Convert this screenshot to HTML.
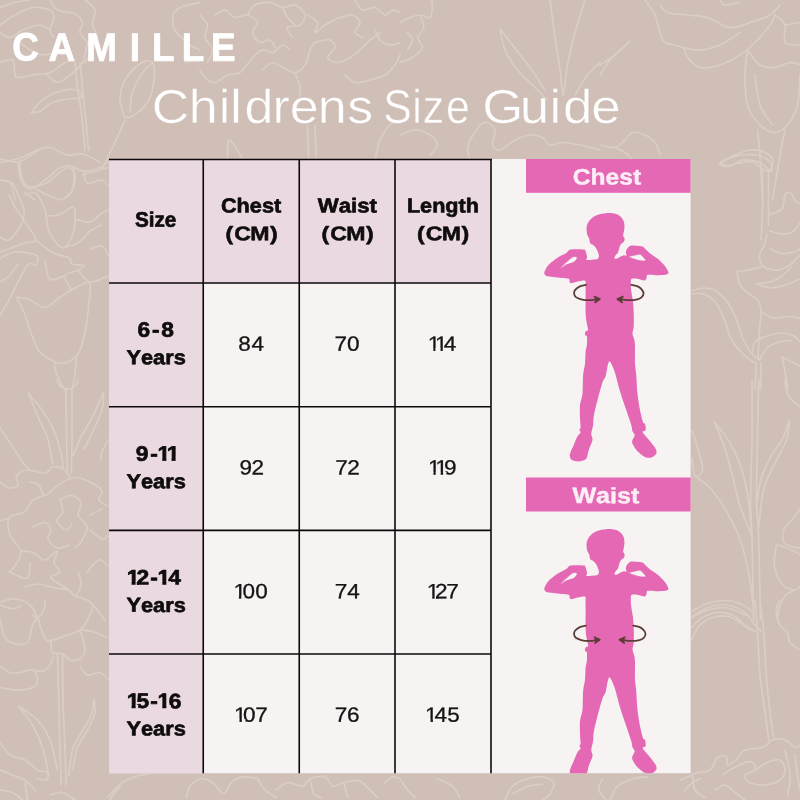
<!DOCTYPE html>
<html lang="en">
<head>
<meta charset="utf-8">
<title>Camille – Childrens Size Guide</title>
<style>
html,body{margin:0;padding:0;}
body{width:800px;height:800px;overflow:hidden;background:#cfbfb7;position:relative;font-family:"Liberation Sans",sans-serif;}
#bg,#shapes,#txt{position:absolute;left:0;top:0;width:800px;height:800px;display:block;}
#txt{font-family:"Liberation Sans",sans-serif;text-rendering:geometricPrecision;}
#txt text{white-space:pre;}
</style>
</head>
<body>
<svg id="bg" viewBox="0 0 800 800" width="800" height="800">
<rect width="800" height="800" fill="#cfbfb7"/>
<path d="M0.00 25.00C2.50 23.33 9.58 17.92 15.00 15.00C20.42 12.08 26.67 8.33 32.50 7.50C38.33 6.67 46.46 8.33 50.00 10.00C53.54 11.67 53.75 14.17 53.75 17.50C53.75 20.83 50.00 26.67 50.00 30.00C50.00 33.33 53.12 36.25 53.75 37.50 M50.00 0.00C51.25 1.67 53.33 7.71 57.50 10.00C61.67 12.29 70.83 11.67 75.00 13.75C79.17 15.83 81.67 19.38 82.50 22.50C83.33 25.62 79.17 29.17 80.00 32.50C80.83 35.83 86.25 40.83 87.50 42.50 M0.00 62.50C2.08 62.08 10.00 57.92 12.50 60.00C15.00 62.08 13.96 72.08 15.00 75.00C16.04 77.92 15.83 77.50 18.75 77.50C21.67 77.50 27.29 75.83 32.50 75.00C37.71 74.17 44.58 74.58 50.00 72.50C55.42 70.42 60.83 64.58 65.00 62.50C69.17 60.42 73.33 60.42 75.00 60.00 M47.50 75.00C49.17 76.25 53.75 82.50 57.50 82.50C61.25 82.50 65.83 78.33 70.00 75.00C74.17 71.67 79.58 67.92 82.50 62.50C85.42 57.08 86.67 45.83 87.50 42.50 M0.00 32.50C1.67 33.33 6.25 37.92 10.00 37.50C13.75 37.08 17.50 32.08 22.50 30.00C27.50 27.92 35.42 25.00 40.00 25.00C44.58 25.00 48.33 29.17 50.00 30.00 M85.00 0.00C86.67 1.67 93.75 5.83 95.00 10.00C96.25 14.17 92.08 20.42 92.50 25.00C92.92 29.58 97.50 33.33 97.50 37.50C97.50 41.67 94.58 45.83 92.50 50.00C90.42 54.17 86.25 60.42 85.00 62.50 M75.00 62.50C75.42 66.67 76.46 79.17 77.50 87.50C78.54 95.83 80.00 102.08 81.25 112.50C82.50 122.92 84.38 143.75 85.00 150.00 M80.00 62.50C80.62 68.75 82.29 85.42 83.75 100.00C85.21 114.58 87.92 141.67 88.75 150.00 M31.25 112.50C33.12 110.42 37.71 103.54 42.50 100.00C47.29 96.46 54.17 92.92 60.00 91.25C65.83 89.58 73.96 88.96 77.50 90.00C81.04 91.04 82.50 96.04 81.25 97.50C80.00 98.96 74.79 97.92 70.00 98.75C65.21 99.58 57.50 100.42 52.50 102.50C47.50 104.58 43.54 109.58 40.00 111.25C36.46 112.92 32.71 112.29 31.25 112.50 M125.00 117.50C124.17 114.58 120.00 106.25 120.00 100.00C120.00 93.75 121.67 86.04 125.00 80.00C128.33 73.96 135.42 66.67 140.00 63.75C144.58 60.83 150.21 59.38 152.50 62.50C154.79 65.62 154.58 75.83 153.75 82.50C152.92 89.17 151.04 96.88 147.50 102.50C143.96 108.12 136.25 113.75 132.50 116.25C128.75 118.75 126.25 117.29 125.00 117.50 M130.00 112.50C130.42 109.17 130.42 99.17 132.50 92.50C134.58 85.83 139.38 77.29 142.50 72.50C145.62 67.71 149.79 65.21 151.25 63.75 M125.00 120.00C123.33 123.75 118.75 134.58 115.00 142.50C111.25 150.42 104.58 163.33 102.50 167.50 M0.00 162.50C3.33 161.75 13.75 160.08 20.00 158.00C26.25 155.92 32.50 151.75 37.50 150.00C42.50 148.25 45.00 146.67 50.00 147.50C55.00 148.33 62.08 153.96 67.50 155.00C72.92 156.04 77.08 152.50 82.50 153.75C87.92 155.00 97.08 161.04 100.00 162.50 M20.00 158.00C20.21 160.83 20.00 170.29 21.25 175.00C22.50 179.71 23.54 184.79 27.50 186.25C31.46 187.71 39.58 186.04 45.00 183.75C50.42 181.46 56.04 175.21 60.00 172.50C63.96 169.79 66.25 167.08 68.75 167.50C71.25 167.92 74.38 171.25 75.00 175.00C75.62 178.75 74.58 185.83 72.50 190.00C70.42 194.17 64.17 198.33 62.50 200.00 M82.50 175.00C85.42 174.17 95.83 171.25 100.00 170.00C104.17 168.75 106.25 167.92 107.50 167.50 M0.00 180.00C1.67 180.42 7.50 179.17 10.00 182.50C12.50 185.83 14.17 197.08 15.00 200.00 M25.00 192.50C26.67 193.75 33.33 198.75 35.00 200.00 M172.50 15.00C173.75 13.75 175.42 9.58 180.00 7.50C184.58 5.42 196.67 3.33 200.00 2.50 M172.50 15.00C172.92 17.50 172.08 25.00 175.00 30.00C177.92 35.00 185.83 41.67 190.00 45.00C194.17 48.33 198.33 49.17 200.00 50.00 M185.00 62.50C187.50 62.08 197.50 60.42 200.00 60.00 M0.00 7.50C2.50 6.67 10.00 3.75 15.00 2.50C20.00 1.25 27.50 0.42 30.00 0.00 M15.00 37.50C17.50 39.58 25.00 47.08 30.00 50.00C35.00 52.92 40.00 55.00 45.00 55.00C50.00 55.00 57.50 50.83 60.00 50.00 M215.00 15.00C216.67 14.17 221.67 9.58 225.00 10.00C228.33 10.42 231.25 16.67 235.00 17.50C238.75 18.33 243.75 14.17 247.50 15.00C251.25 15.83 256.67 19.58 257.50 22.50C258.33 25.42 252.08 29.17 252.50 32.50C252.92 35.83 257.08 41.25 260.00 42.50C262.92 43.75 267.50 39.17 270.00 40.00C272.50 40.83 274.17 46.25 275.00 47.50 M247.50 15.00C248.75 13.33 251.25 7.08 255.00 5.00C258.75 2.92 265.42 2.08 270.00 2.50C274.58 2.92 278.33 7.08 282.50 7.50C286.67 7.92 291.25 3.75 295.00 5.00C298.75 6.25 304.17 11.67 305.00 15.00C305.83 18.33 302.92 22.92 300.00 25.00C297.08 27.08 288.75 25.42 287.50 27.50C286.25 29.58 291.67 35.83 292.50 37.50 M282.50 7.50C283.33 9.17 285.42 14.58 287.50 17.50C289.58 20.42 293.75 23.75 295.00 25.00 M307.50 15.00C309.17 16.25 316.25 19.58 317.50 22.50C318.75 25.42 313.75 32.08 315.00 32.50C316.25 32.92 320.83 27.50 325.00 25.00C329.17 22.50 335.42 19.17 340.00 17.50C344.58 15.83 349.17 14.17 352.50 15.00C355.83 15.83 359.58 19.58 360.00 22.50C360.42 25.42 354.58 30.00 355.00 32.50C355.42 35.00 361.25 36.67 362.50 37.50 M310.00 50.00C310.83 48.75 311.67 44.17 315.00 42.50C318.33 40.83 326.67 39.17 330.00 40.00C333.33 40.83 335.42 44.58 335.00 47.50C334.58 50.42 327.08 55.00 327.50 57.50C327.92 60.00 333.75 62.50 337.50 62.50C341.25 62.50 346.25 59.58 350.00 57.50C353.75 55.42 356.67 52.92 360.00 50.00C363.33 47.08 366.67 42.92 370.00 40.00C373.33 37.08 378.33 33.75 380.00 32.50 M262.50 70.00C264.17 68.75 269.17 62.92 272.50 62.50C275.83 62.08 278.75 65.83 282.50 67.50C286.25 69.17 291.25 72.92 295.00 72.50C298.75 72.08 302.50 68.75 305.00 65.00C307.50 61.25 309.17 52.50 310.00 50.00 M252.50 57.50C254.17 56.25 259.17 50.83 262.50 50.00C265.83 49.17 269.17 53.33 272.50 52.50C275.83 51.67 279.58 45.42 282.50 45.00C285.42 44.58 288.75 49.17 290.00 50.00 M200.00 70.00C200.83 71.25 202.50 75.42 205.00 77.50C207.50 79.58 211.25 82.92 215.00 82.50C218.75 82.08 223.33 76.67 227.50 75.00C231.67 73.33 235.83 75.42 240.00 72.50C244.17 69.58 250.42 60.00 252.50 57.50 M345.00 75.00C346.67 76.25 350.83 81.67 355.00 82.50C359.17 83.33 365.00 81.25 370.00 80.00C375.00 78.75 380.83 77.50 385.00 75.00C389.17 72.50 392.50 68.33 395.00 65.00C397.50 61.67 399.17 56.67 400.00 55.00 M355.00 0.00C356.25 1.67 359.17 8.75 362.50 10.00C365.83 11.25 371.25 6.67 375.00 7.50C378.75 8.33 382.08 14.58 385.00 15.00C387.92 15.42 390.00 10.42 392.50 10.00C395.00 9.58 398.75 12.08 400.00 12.50 M375.00 30.00C375.83 31.67 377.50 37.50 380.00 40.00C382.50 42.50 386.67 44.58 390.00 45.00C393.33 45.42 398.33 42.92 400.00 42.50 M295.00 72.50C295.83 75.00 299.38 82.08 300.00 87.50C300.62 92.92 298.96 102.08 298.75 105.00 M307.50 125.00C307.71 130.83 308.54 154.17 308.75 160.00 M315.00 125.00C315.21 130.83 316.04 154.17 316.25 160.00 M227.50 160.00C227.71 156.67 227.08 141.67 228.75 140.00C230.42 138.33 235.21 146.67 237.50 150.00C239.79 153.33 241.67 158.33 242.50 160.00 M375.00 160.00C375.83 156.67 377.50 145.83 380.00 140.00C382.50 134.17 386.67 128.33 390.00 125.00C393.33 121.67 398.33 120.83 400.00 120.00 M200.00 15.00C201.25 16.67 206.67 21.25 207.50 25.00C208.33 28.75 204.17 33.33 205.00 37.50C205.83 41.67 212.08 45.83 212.50 50.00C212.92 54.17 208.33 60.42 207.50 62.50 M400.00 22.50C401.67 21.67 406.67 18.75 410.00 17.50C413.33 16.25 416.67 15.00 420.00 15.00C423.33 15.00 427.92 19.17 430.00 17.50C432.08 15.83 432.29 7.92 432.50 5.00C432.71 2.08 431.46 0.83 431.25 0.00 M420.00 15.00C420.62 17.08 424.17 23.75 423.75 27.50C423.33 31.25 417.71 34.17 417.50 37.50C417.29 40.83 423.33 44.17 422.50 47.50C421.67 50.83 416.25 55.00 412.50 57.50C408.75 60.00 402.08 61.67 400.00 62.50 M407.50 32.50C408.33 33.75 412.50 37.08 412.50 40.00C412.50 42.92 408.33 48.33 407.50 50.00 M500.00 28.75C500.83 32.29 502.08 43.12 505.00 50.00C507.92 56.88 512.50 63.75 517.50 70.00C522.50 76.25 530.00 82.50 535.00 87.50C540.00 92.50 545.42 97.92 547.50 100.00 M500.00 28.75C502.08 31.46 507.50 38.54 512.50 45.00C517.50 51.46 524.58 60.00 530.00 67.50C535.42 75.00 542.50 86.25 545.00 90.00 M550.00 0.00C550.83 6.25 553.33 25.83 555.00 37.50C556.67 49.17 558.75 60.42 560.00 70.00C561.25 79.58 562.08 90.83 562.50 95.00 M585.00 0.00C583.33 5.42 577.92 21.67 575.00 32.50C572.08 43.33 569.38 54.58 567.50 65.00C565.62 75.42 564.38 90.00 563.75 95.00 M600.00 62.50C597.92 64.58 591.67 69.58 587.50 75.00C583.33 80.42 577.08 91.67 575.00 95.00 M470.00 140.00C471.67 137.50 477.08 127.92 480.00 125.00C482.92 122.08 485.00 121.67 487.50 122.50C490.00 123.33 494.17 126.25 495.00 130.00C495.83 133.75 491.67 141.67 492.50 145.00C493.33 148.33 496.25 150.83 500.00 150.00C503.75 149.17 510.00 142.50 515.00 140.00C520.00 137.50 525.42 135.42 530.00 135.00C534.58 134.58 539.17 135.83 542.50 137.50C545.83 139.17 546.67 144.17 550.00 145.00C553.33 145.83 557.50 142.50 562.50 142.50C567.50 142.50 573.75 143.75 580.00 145.00C586.25 146.25 596.67 149.17 600.00 150.00 M470.00 140.00C469.58 141.67 467.50 146.67 467.50 150.00C467.50 153.33 469.58 158.33 470.00 160.00 M400.00 135.00C402.50 134.17 410.00 130.00 415.00 130.00C420.00 130.00 426.25 132.50 430.00 135.00C433.75 137.50 437.50 141.67 437.50 145.00C437.50 148.33 431.25 153.33 430.00 155.00 M645.00 0.00C646.67 2.50 652.50 9.58 655.00 15.00C657.50 20.42 658.33 27.92 660.00 32.50C661.67 37.08 661.25 40.00 665.00 42.50C668.75 45.00 678.75 45.00 682.50 47.50C686.25 50.00 684.58 54.17 687.50 57.50C690.42 60.83 694.58 66.25 700.00 67.50C705.42 68.75 713.33 67.08 720.00 65.00C726.67 62.92 734.17 58.75 740.00 55.00C745.83 51.25 750.00 47.50 755.00 42.50C760.00 37.50 766.67 29.58 770.00 25.00C773.33 20.42 774.17 16.67 775.00 15.00 M660.00 5.00C661.25 6.25 662.92 10.83 667.50 12.50C672.08 14.17 680.83 14.17 687.50 15.00C694.17 15.83 700.42 15.42 707.50 17.50C714.58 19.58 722.92 26.67 730.00 27.50C737.08 28.33 743.33 24.58 750.00 22.50C756.67 20.42 765.00 17.92 770.00 15.00C775.00 12.08 778.33 6.67 780.00 5.00 M682.50 47.50C685.42 47.92 693.75 50.42 700.00 50.00C706.25 49.58 713.33 47.92 720.00 45.00C726.67 42.08 736.67 34.58 740.00 32.50 M720.00 0.00C720.83 0.83 721.67 4.58 725.00 5.00C728.33 5.42 737.50 2.92 740.00 2.50 M775.00 15.00C776.67 16.67 783.33 20.42 785.00 25.00C786.67 29.58 782.50 39.17 785.00 42.50C787.50 45.83 797.50 44.58 800.00 45.00 M785.00 25.00C787.50 24.58 797.50 22.92 800.00 22.50 M747.50 50.00C747.08 54.17 745.00 65.83 745.00 75.00C745.00 84.17 745.00 96.67 747.50 105.00C750.00 113.33 755.42 120.42 760.00 125.00C764.58 129.58 770.42 132.50 775.00 132.50C779.58 132.50 783.75 129.58 787.50 125.00C791.25 120.42 795.42 113.33 797.50 105.00C799.58 96.67 799.58 80.00 800.00 75.00 M747.50 50.00C749.58 52.50 755.42 62.08 760.00 65.00C764.58 67.92 770.00 67.92 775.00 67.50C780.00 67.08 785.83 62.92 790.00 62.50C794.17 62.08 798.33 64.58 800.00 65.00 M755.00 75.00C755.83 80.00 757.08 96.67 760.00 105.00C762.92 113.33 770.42 121.67 772.50 125.00 M757.50 130.00C757.92 134.17 759.17 143.33 760.00 155.00C760.83 166.67 762.08 192.50 762.50 200.00 M785.00 130.00C784.17 134.17 782.08 143.33 780.00 155.00C777.92 166.67 773.75 192.50 772.50 200.00 M720.00 162.50C722.50 161.25 730.00 157.08 735.00 155.00C740.00 152.92 745.00 150.42 750.00 150.00C755.00 149.58 761.25 150.83 765.00 152.50C768.75 154.17 771.67 157.08 772.50 160.00C773.33 162.92 772.08 169.58 770.00 170.00C767.92 170.42 764.58 164.17 760.00 162.50C755.42 160.83 747.50 159.38 742.50 160.00C737.50 160.62 733.75 165.83 730.00 166.25C726.25 166.67 721.67 163.12 720.00 162.50 M600.00 75.00C601.67 72.50 606.25 64.58 610.00 60.00C613.75 55.42 619.17 50.62 622.50 47.50C625.83 44.38 628.75 42.29 630.00 41.25 M600.00 65.00C602.50 63.33 610.00 58.96 615.00 55.00C620.00 51.04 627.50 43.54 630.00 41.25 M600.00 145.00C602.50 145.42 610.83 148.33 615.00 147.50C619.17 146.67 622.08 142.50 625.00 140.00C627.92 137.50 629.17 133.33 632.50 132.50C635.83 131.67 641.25 133.33 645.00 135.00C648.75 136.67 652.50 139.17 655.00 142.50C657.50 145.83 659.17 152.92 660.00 155.00 M615.00 147.50C616.67 148.33 622.08 150.42 625.00 152.50C627.92 154.58 631.25 158.75 632.50 160.00 M0.00 159.00C3.00 159.50 13.00 162.50 18.00 162.00C23.00 161.50 26.50 158.00 30.00 156.00C33.50 154.00 37.50 151.00 39.00 150.00 M18.00 162.00C18.50 165.00 19.00 175.50 21.00 180.00C23.00 184.50 26.00 189.00 30.00 189.00C34.00 189.00 40.00 183.50 45.00 180.00C50.00 176.50 55.50 170.25 60.00 168.00C64.50 165.75 69.75 164.00 72.00 166.50C74.25 169.00 74.00 178.25 73.50 183.00C73.00 187.75 71.25 192.25 69.00 195.00C66.75 197.75 63.50 199.50 60.00 199.50C56.50 199.50 52.00 196.75 48.00 195.00C44.00 193.25 38.00 190.00 36.00 189.00 M72.00 166.50C74.00 167.25 79.50 170.75 84.00 171.00C88.50 171.25 95.00 169.50 99.00 168.00C103.00 166.50 106.50 163.00 108.00 162.00 M84.00 171.00C84.50 173.00 84.00 181.50 87.00 183.00C90.00 184.50 98.50 179.50 102.00 180.00C105.50 180.50 107.00 185.00 108.00 186.00 M24.00 195.00C26.00 194.75 32.50 191.00 36.00 193.50C39.50 196.00 43.00 204.25 45.00 210.00C47.00 215.75 46.50 223.00 48.00 228.00C49.50 233.00 51.50 236.75 54.00 240.00C56.50 243.25 60.00 248.00 63.00 247.50C66.00 247.00 70.00 241.25 72.00 237.00C74.00 232.75 74.75 227.00 75.00 222.00C75.25 217.00 76.00 208.25 73.50 207.00C71.00 205.75 64.25 213.00 60.00 214.50C55.75 216.00 50.00 215.75 48.00 216.00 M0.00 180.00C2.00 180.50 9.00 180.50 12.00 183.00C15.00 185.50 16.00 190.50 18.00 195.00C20.00 199.50 23.50 205.00 24.00 210.00C24.50 215.00 23.50 220.00 21.00 225.00C18.50 230.00 12.50 238.00 9.00 240.00C5.50 242.00 1.50 237.50 0.00 237.00 M9.00 195.00C10.00 197.00 12.00 202.00 15.00 207.00C18.00 212.00 23.50 219.50 27.00 225.00C30.50 230.50 36.50 237.00 36.00 240.00C35.50 243.00 28.50 241.50 24.00 243.00C19.50 244.50 13.00 247.50 9.00 249.00C5.00 250.50 1.50 251.50 0.00 252.00 M75.00 219.00C77.50 219.50 85.50 223.00 90.00 222.00C94.50 221.00 99.00 215.00 102.00 213.00C105.00 211.00 107.00 210.50 108.00 210.00 M63.00 247.50C65.50 246.75 73.50 245.75 78.00 243.00C82.50 240.25 86.00 234.00 90.00 231.00C94.00 228.00 100.00 226.00 102.00 225.00 M36.00 240.00C38.50 242.00 45.50 249.00 51.00 252.00C56.50 255.00 65.50 256.00 69.00 258.00C72.50 260.00 69.50 262.75 72.00 264.00C74.50 265.25 83.00 264.50 84.00 265.50C85.00 266.50 81.25 268.25 78.00 270.00C74.75 271.75 65.75 273.00 64.50 276.00C63.25 279.00 70.00 285.25 70.50 288.00C71.00 290.75 68.00 291.75 67.50 292.50 M0.00 258.00C2.50 257.00 10.00 252.75 15.00 252.00C20.00 251.25 26.25 252.75 30.00 253.50C33.75 254.25 36.50 254.50 37.50 256.50C38.50 258.50 37.50 264.25 36.00 265.50C34.50 266.75 31.50 261.25 28.50 264.00C25.50 266.75 21.25 276.00 18.00 282.00C14.75 288.00 12.00 294.50 9.00 300.00C6.00 305.50 1.50 312.50 0.00 315.00 M45.00 259.50C45.75 262.75 46.25 276.25 49.50 279.00C52.75 281.75 62.00 276.50 64.50 276.00 M0.00 282.00C1.50 281.00 6.00 279.00 9.00 276.00C12.00 273.00 16.50 266.00 18.00 264.00 M90.00 249.00C92.00 248.50 99.00 245.00 102.00 246.00C105.00 247.00 107.00 253.50 108.00 255.00 M78.00 270.00C80.00 272.00 85.00 281.00 90.00 282.00C95.00 283.00 105.00 277.00 108.00 276.00 M16.50 297.00C18.75 297.50 25.25 298.25 30.00 300.00C34.75 301.75 40.00 308.00 45.00 307.50C50.00 307.00 56.25 299.50 60.00 297.00C63.75 294.50 64.00 294.50 67.50 292.50C71.00 290.50 77.25 286.50 81.00 285.00C84.75 283.50 88.75 280.00 90.00 283.50C91.25 287.00 89.25 298.25 88.50 306.00C87.75 313.75 87.25 322.00 85.50 330.00C83.75 338.00 81.50 348.50 78.00 354.00C74.50 359.50 68.50 361.75 64.50 363.00C60.50 364.25 58.25 363.50 54.00 361.50C49.75 359.50 43.00 356.25 39.00 351.00C35.00 345.75 32.50 336.50 30.00 330.00C27.50 323.50 26.25 317.50 24.00 312.00C21.75 306.50 17.75 299.50 16.50 297.00 M54.00 361.50C54.50 363.75 55.25 370.25 57.00 375.00C58.75 379.75 63.25 387.50 64.50 390.00 M76.50 357.00C76.25 360.00 75.75 369.50 75.00 375.00C74.25 380.50 72.50 387.50 72.00 390.00 M57.00 380.00C57.50 381.00 58.00 384.50 60.00 386.00C62.00 387.50 66.25 389.25 69.00 389.00C71.75 388.75 75.00 386.00 76.50 384.50C78.00 383.00 77.75 380.75 78.00 380.00 M66.00 389.00C66.10 397.50 66.35 426.00 66.60 440.00C66.85 454.00 67.35 467.50 67.50 473.00 M72.00 389.00C72.00 397.50 72.10 426.00 72.00 440.00C71.90 454.00 71.50 467.50 71.40 473.00 M28.50 393.50C30.75 396.25 37.75 403.75 42.00 410.00C46.25 416.25 50.75 423.50 54.00 431.00C57.25 438.50 60.00 449.00 61.50 455.00C63.00 461.00 62.75 465.00 63.00 467.00 M28.50 393.50C30.25 397.75 35.75 411.25 39.00 419.00C42.25 426.75 45.75 432.50 48.00 440.00C50.25 447.50 51.75 460.00 52.50 464.00 M103.50 392.00C101.75 396.00 96.75 408.50 93.00 416.00C89.25 423.50 84.25 430.50 81.00 437.00C77.75 443.50 74.75 452.00 73.50 455.00 M103.50 392.00C103.25 395.00 103.75 403.50 102.00 410.00C100.25 416.50 96.00 424.50 93.00 431.00C90.00 437.50 85.50 446.00 84.00 449.00 M108.00 440.00C107.00 442.00 103.25 448.50 102.00 452.00C100.75 455.50 100.75 459.50 100.50 461.00 M0.00 428.00C2.00 431.00 8.00 440.00 12.00 446.00C16.00 452.00 21.00 460.00 24.00 464.00C27.00 468.00 29.00 469.00 30.00 470.00 M0.00 482.00C1.50 483.00 6.00 487.50 9.00 488.00C12.00 488.50 16.75 487.00 18.00 485.00C19.25 483.00 15.00 478.50 16.50 476.00C18.00 473.50 22.25 470.50 27.00 470.00C31.75 469.50 40.75 473.50 45.00 473.00C49.25 472.50 49.50 467.75 52.50 467.00C55.50 466.25 60.25 467.00 63.00 468.50C65.75 470.00 68.00 474.75 69.00 476.00 M30.00 482.00C31.50 482.50 36.50 482.75 39.00 485.00C41.50 487.25 41.50 495.75 45.00 495.50C48.50 495.25 55.00 486.50 60.00 483.50C65.00 480.50 70.00 477.75 75.00 477.50C80.00 477.25 85.50 479.75 90.00 482.00C94.50 484.25 100.50 488.00 102.00 491.00C103.50 494.00 98.00 497.50 99.00 500.00C100.00 502.50 106.50 505.00 108.00 506.00 M45.00 495.50C43.00 496.25 36.50 497.25 33.00 500.00C29.50 502.75 28.00 509.00 24.00 512.00C20.00 515.00 11.25 514.00 9.00 518.00C6.75 522.00 8.50 530.50 10.50 536.00C12.50 541.50 20.25 546.00 21.00 551.00C21.75 556.00 17.00 562.50 15.00 566.00C13.00 569.50 10.00 571.00 9.00 572.00 M60.00 500.00C62.00 499.25 68.50 495.00 72.00 495.50C75.50 496.00 80.00 499.75 81.00 503.00C82.00 506.25 77.00 511.00 78.00 515.00C79.00 519.00 86.50 522.50 87.00 527.00C87.50 531.50 83.00 538.50 81.00 542.00C79.00 545.50 76.00 547.00 75.00 548.00 M33.00 527.00C35.00 526.25 42.00 522.00 45.00 522.50C48.00 523.00 50.50 527.25 51.00 530.00C51.50 532.75 47.00 536.00 48.00 539.00C49.00 542.00 53.50 547.00 57.00 548.00C60.50 549.00 67.00 545.50 69.00 545.00 M60.00 500.00C60.50 502.00 63.50 508.50 63.00 512.00C62.50 515.50 56.50 518.00 57.00 521.00C57.50 524.00 63.50 529.50 66.00 530.00C68.50 530.50 71.00 525.00 72.00 524.00 M21.00 551.00C23.00 551.25 29.00 551.00 33.00 552.50C37.00 554.00 41.00 560.25 45.00 560.00C49.00 559.75 55.50 550.50 57.00 551.00C58.50 551.50 53.50 559.50 54.00 563.00C54.50 566.50 60.50 569.50 60.00 572.00C59.50 574.50 49.50 575.00 51.00 578.00C52.50 581.00 65.00 587.00 69.00 590.00C73.00 593.00 73.00 597.00 75.00 596.00C77.00 595.00 80.50 588.00 81.00 584.00C81.50 580.00 78.50 574.00 78.00 572.00 M9.00 572.00C12.00 573.00 23.50 579.50 27.00 578.00C30.50 576.50 29.50 565.50 30.00 563.00 M24.00 587.00C26.50 586.50 34.50 584.00 39.00 584.00C43.50 584.00 46.00 586.00 51.00 587.00C56.00 588.00 66.00 589.50 69.00 590.00 M0.00 602.00C2.50 601.50 10.00 598.50 15.00 599.00C20.00 599.50 26.00 601.50 30.00 605.00C34.00 608.50 37.50 617.50 39.00 620.00 M75.00 596.00C77.50 597.00 85.00 598.00 90.00 602.00C95.00 606.00 102.50 617.00 105.00 620.00 M87.00 572.00C89.00 570.00 95.50 561.00 99.00 560.00C102.50 559.00 106.50 565.00 108.00 566.00 M90.00 515.00C92.00 514.00 100.00 510.00 102.00 509.00 M90.00 530.00C92.00 531.50 99.00 538.00 102.00 539.00C105.00 540.00 107.00 536.50 108.00 536.00 M0.00 521.00C1.50 520.50 7.50 518.50 9.00 518.00 M0.00 605.00C2.08 605.62 9.17 608.54 12.50 608.75C15.83 608.96 18.75 606.67 20.00 606.25 M32.50 615.00C33.33 615.42 35.62 618.33 37.50 617.50C39.38 616.67 42.50 612.92 43.75 610.00C45.00 607.08 44.79 601.67 45.00 600.00 M0.00 620.00C0.83 622.92 2.50 633.54 5.00 637.50C7.50 641.46 11.25 642.92 15.00 643.75C18.75 644.58 24.58 645.62 27.50 642.50C30.42 639.38 30.83 629.17 32.50 625.00C34.17 620.83 36.67 618.75 37.50 617.50 M37.50 617.50C38.75 621.04 42.50 635.00 45.00 638.75C47.50 642.50 48.75 640.62 52.50 640.00C56.25 639.38 62.92 636.67 67.50 635.00C72.08 633.33 76.67 632.50 80.00 630.00C83.33 627.50 85.42 623.75 87.50 620.00C89.58 616.25 91.67 609.58 92.50 607.50 M51.25 641.25C51.46 643.12 50.62 650.42 52.50 652.50C54.38 654.58 59.58 652.50 62.50 653.75C65.42 655.00 67.08 659.17 70.00 660.00C72.92 660.83 77.50 660.42 80.00 658.75C82.50 657.08 84.58 653.54 85.00 650.00C85.42 646.46 83.33 640.83 82.50 637.50C81.67 634.17 80.42 631.25 80.00 630.00 M80.00 666.25C81.25 667.71 84.17 673.96 87.50 675.00C90.83 676.04 96.46 671.67 100.00 672.50C103.54 673.33 107.29 678.75 108.75 680.00 M82.50 630.00C84.58 630.42 90.83 631.25 95.00 632.50C99.17 633.75 105.42 636.67 107.50 637.50 M0.00 666.25C1.67 667.29 6.67 671.46 10.00 672.50C13.33 673.54 16.25 672.92 20.00 672.50C23.75 672.08 29.58 668.75 32.50 670.00C35.42 671.25 37.50 677.08 37.50 680.00C37.50 682.92 35.83 685.83 32.50 687.50C29.17 689.17 22.92 690.00 17.50 690.00C12.08 690.00 2.92 687.92 0.00 687.50 M32.50 670.00C34.17 670.21 39.58 672.08 42.50 671.25C45.42 670.42 48.12 667.50 50.00 665.00C51.88 662.50 53.12 657.71 53.75 656.25 M57.50 655.00C57.71 662.50 58.33 684.17 58.75 700.00C59.17 715.83 59.58 735.83 60.00 750.00C60.42 764.17 61.04 779.17 61.25 785.00 M62.50 655.00C62.58 662.50 62.58 684.17 63.00 700.00C63.42 715.83 64.46 735.83 65.00 750.00C65.54 764.17 66.04 779.17 66.25 785.00 M18.75 706.25C21.04 709.38 28.54 718.12 32.50 725.00C36.46 731.88 39.79 739.17 42.50 747.50C45.21 755.83 47.71 770.42 48.75 775.00 M18.75 706.25C21.88 708.54 32.29 714.38 37.50 720.00C42.71 725.62 46.67 731.67 50.00 740.00C53.33 748.33 56.25 765.00 57.50 770.00 M93.75 698.75C93.96 701.04 96.04 707.29 95.00 712.50C93.96 717.71 90.42 724.17 87.50 730.00C84.58 735.83 80.00 740.83 77.50 747.50C75.00 754.17 73.33 766.25 72.50 770.00 M93.75 698.75C93.33 701.46 93.54 708.96 91.25 715.00C88.96 721.04 83.12 729.17 80.00 735.00C76.88 740.83 74.38 743.33 72.50 750.00C70.62 756.67 69.38 770.83 68.75 775.00 M0.00 742.50C1.67 744.58 5.83 752.08 10.00 755.00C14.17 757.92 20.42 757.50 25.00 760.00C29.58 762.50 33.75 767.92 37.50 770.00C41.25 772.08 46.04 770.83 47.50 772.50C48.96 774.17 47.92 778.96 46.25 780.00C44.58 781.04 38.96 778.96 37.50 778.75 M0.00 770.00C2.08 770.83 8.33 773.33 12.50 775.00C16.67 776.67 21.25 777.50 25.00 780.00C28.75 782.50 33.33 788.33 35.00 790.00 M0.00 790.00C2.08 790.42 8.75 790.83 12.50 792.50C16.25 794.17 20.83 798.75 22.50 800.00 M25.00 782.50C25.42 785.42 27.08 797.08 27.50 800.00 M50.00 795.00C52.08 794.58 58.33 791.67 62.50 792.50C66.67 793.33 72.92 798.75 75.00 800.00 M110.00 800.00C110.83 798.75 113.33 794.58 115.00 792.50C116.67 790.42 119.17 788.33 120.00 787.50 M719.00 163.50C721.00 162.50 726.50 159.00 731.00 157.50C735.50 156.00 741.00 154.75 746.00 154.50C751.00 154.25 757.00 154.75 761.00 156.00C765.00 157.25 768.25 159.50 770.00 162.00C771.75 164.50 772.50 169.75 771.50 171.00C770.50 172.25 767.25 171.00 764.00 169.50C760.75 168.00 756.50 163.00 752.00 162.00C747.50 161.00 741.50 162.75 737.00 163.50C732.50 164.25 728.00 166.50 725.00 166.50C722.00 166.50 720.00 164.00 719.00 163.50 M762.50 171.00C762.50 177.50 762.75 198.50 762.50 210.00C762.25 221.50 761.25 235.00 761.00 240.00 M768.50 171.00C768.50 180.00 768.50 216.00 768.50 225.00 M770.00 214.50C772.00 213.50 779.50 211.75 782.00 208.50C784.50 205.25 783.50 197.50 785.00 195.00C786.50 192.50 789.25 192.50 791.00 193.50C792.75 194.50 794.00 199.25 795.50 201.00C797.00 202.75 799.25 203.50 800.00 204.00 M770.00 231.00C772.00 231.50 778.00 234.00 782.00 234.00C786.00 234.00 791.00 233.00 794.00 231.00C797.00 229.00 799.00 223.50 800.00 222.00 M767.00 234.00C766.50 236.00 765.25 242.50 764.00 246.00C762.75 249.50 759.50 251.50 759.50 255.00C759.50 258.50 760.75 264.50 764.00 267.00C767.25 269.50 774.50 270.50 779.00 270.00C783.50 269.50 787.50 266.50 791.00 264.00C794.50 261.50 798.50 256.50 800.00 255.00 M770.00 249.00C772.00 249.75 778.00 253.00 782.00 253.50C786.00 254.00 791.00 252.75 794.00 252.00C797.00 251.25 799.00 249.50 800.00 249.00 M737.00 271.50C739.00 271.25 745.00 270.75 749.00 270.00C753.00 269.25 759.00 267.50 761.00 267.00 M737.00 271.50C737.50 273.75 738.00 281.25 740.00 285.00C742.00 288.75 746.00 291.50 749.00 294.00C752.00 296.50 756.00 297.00 758.00 300.00C760.00 303.00 760.75 307.00 761.00 312.00C761.25 317.00 760.00 322.00 759.50 330.00C759.00 338.00 758.25 355.00 758.00 360.00 M756.50 283.50C758.75 283.25 765.75 283.25 770.00 282.00C774.25 280.75 778.50 278.50 782.00 276.00C785.50 273.50 789.50 268.50 791.00 267.00 M756.50 283.50C758.75 284.25 765.25 287.75 770.00 288.00C774.75 288.25 780.00 286.50 785.00 285.00C790.00 283.50 797.50 280.00 800.00 279.00 M761.00 312.00C763.00 313.00 768.50 317.25 773.00 318.00C777.50 318.75 783.50 316.50 788.00 316.50C792.50 316.50 798.00 317.75 800.00 318.00 M692.00 291.00C694.00 290.50 700.00 288.00 704.00 288.00C708.00 288.00 712.00 288.50 716.00 291.00C720.00 293.50 724.50 298.00 728.00 303.00C731.50 308.00 734.50 315.00 737.00 321.00C739.50 327.00 740.50 333.50 743.00 339.00C745.50 344.50 749.25 350.50 752.00 354.00C754.75 357.50 758.25 359.00 759.50 360.00 M692.00 294.00C694.00 294.00 700.00 292.50 704.00 294.00C708.00 295.50 712.50 298.50 716.00 303.00C719.50 307.50 722.50 315.00 725.00 321.00C727.50 327.00 728.00 333.50 731.00 339.00C734.00 344.50 739.00 350.00 743.00 354.00C747.00 358.00 753.00 361.50 755.00 363.00 M752.00 354.00C752.50 352.00 752.50 345.00 755.00 342.00C757.50 339.00 762.50 337.50 767.00 336.00C771.50 334.50 777.50 333.00 782.00 333.00C786.50 333.00 791.00 334.50 794.00 336.00C797.00 337.50 799.00 341.00 800.00 342.00 M759.50 360.00C760.75 358.00 763.75 351.00 767.00 348.00C770.25 345.00 775.00 343.25 779.00 342.00C783.00 340.75 789.00 340.75 791.00 340.50 M756.50 363.00C756.25 367.50 755.25 385.50 755.00 390.00 M761.00 363.00C760.90 367.50 760.50 385.50 760.40 390.00 M782.00 357.00C782.50 359.50 784.00 366.50 785.00 372.00C786.00 377.50 787.50 387.00 788.00 390.00 M782.00 357.00C784.00 358.00 791.00 361.50 794.00 363.00C797.00 364.50 799.00 365.50 800.00 366.00 M752.00 380.00C752.00 390.00 752.25 420.00 752.00 440.00C751.75 460.00 750.50 484.00 750.50 500.00C750.50 516.00 751.50 516.00 752.00 536.00C752.50 556.00 753.25 606.00 753.50 620.00 M758.60 380.00C758.40 390.00 757.75 420.00 757.40 440.00C757.05 460.00 756.30 484.00 756.50 500.00C756.70 516.00 757.95 516.00 758.60 536.00C759.25 556.00 760.10 606.00 760.40 620.00 M714.50 422.00C716.75 425.00 723.75 433.00 728.00 440.00C732.25 447.00 736.75 455.00 740.00 464.00C743.25 473.00 745.50 482.00 747.50 494.00C749.50 506.00 751.25 529.00 752.00 536.00 M714.50 422.00C716.25 426.50 722.00 440.00 725.00 449.00C728.00 458.00 730.00 466.50 732.50 476.00C735.00 485.50 736.75 496.00 740.00 506.00C743.25 516.00 750.00 531.00 752.00 536.00 M789.50 420.50C789.00 423.75 788.75 433.25 786.50 440.00C784.25 446.75 779.75 453.00 776.00 461.00C772.25 469.00 766.90 477.00 764.00 488.00C761.10 499.00 759.50 520.50 758.60 527.00 M789.50 420.50C788.25 423.75 785.25 433.75 782.00 440.00C778.75 446.25 773.50 451.50 770.00 458.00C766.50 464.50 763.25 471.00 761.00 479.00C758.75 487.00 757.25 501.50 756.50 506.00 M692.00 431.00C693.00 434.00 696.25 442.50 698.00 449.00C699.75 455.50 703.00 465.50 702.50 470.00C702.00 474.50 696.75 478.00 695.00 476.00C693.25 474.00 692.50 461.00 692.00 458.00 M695.00 476.00C697.50 478.00 705.00 482.50 710.00 488.00C715.00 493.50 720.00 500.50 725.00 509.00C730.00 517.50 736.00 528.00 740.00 539.00C744.00 550.00 746.75 563.50 749.00 575.00C751.25 586.50 752.75 602.50 753.50 608.00 M785.00 380.00C785.50 382.50 785.50 390.50 788.00 395.00C790.50 399.50 798.00 405.00 800.00 407.00 M800.00 509.00C798.50 511.00 793.75 517.50 791.00 521.00C788.25 524.50 784.75 526.50 783.50 530.00C782.25 533.50 782.25 539.25 783.50 542.00C784.75 544.75 788.25 545.50 791.00 546.50C793.75 547.50 798.50 547.75 800.00 548.00 M776.00 548.00C776.50 547.50 775.00 544.00 779.00 545.00C783.00 546.00 796.50 552.50 800.00 554.00 M776.00 548.00C775.75 551.00 773.50 560.00 774.50 566.00C775.50 572.00 778.75 580.00 782.00 584.00C785.25 588.00 791.00 589.50 794.00 590.00C797.00 590.50 799.00 587.50 800.00 587.00 M779.00 608.00C780.00 606.00 782.50 599.00 785.00 596.00C787.50 593.00 792.50 591.00 794.00 590.00 M779.00 608.00C778.75 610.00 777.75 618.00 777.50 620.00 M692.00 611.00C694.50 609.75 701.50 605.25 707.00 603.50C712.50 601.75 719.50 600.50 725.00 600.50C730.50 600.50 735.50 601.75 740.00 603.50C744.50 605.25 750.00 609.75 752.00 611.00 M692.00 617.00C695.00 615.75 704.00 611.00 710.00 609.50C716.00 608.00 722.00 607.00 728.00 608.00C734.00 609.00 743.00 614.25 746.00 615.50 M691.25 617.50C693.12 616.25 698.12 612.08 702.50 610.00C706.88 607.92 712.50 605.62 717.50 605.00C722.50 604.38 727.92 605.00 732.50 606.25C737.08 607.50 741.25 609.38 745.00 612.50C748.75 615.62 752.29 621.88 755.00 625.00C757.71 628.12 760.21 630.21 761.25 631.25 M691.25 627.50C693.12 625.83 698.12 620.00 702.50 617.50C706.88 615.00 712.50 612.92 717.50 612.50C722.50 612.08 727.92 612.92 732.50 615.00C737.08 617.08 741.25 622.29 745.00 625.00C748.75 627.71 753.33 630.21 755.00 631.25 M691.25 640.00C692.71 637.50 696.46 628.75 700.00 625.00C703.54 621.25 707.92 618.96 712.50 617.50C717.08 616.04 722.92 615.42 727.50 616.25C732.08 617.08 736.25 620.21 740.00 622.50C743.75 624.79 748.33 628.75 750.00 630.00 M755.00 600.00C755.42 605.42 756.67 620.00 757.50 632.50C758.33 645.00 758.75 661.67 760.00 675.00C761.25 688.33 763.54 701.67 765.00 712.50C766.46 723.33 768.12 735.42 768.75 740.00 M760.00 600.00C760.62 605.42 762.71 620.00 763.75 632.50C764.79 645.00 765.21 661.67 766.25 675.00C767.29 688.33 768.75 702.08 770.00 712.50C771.25 722.92 773.12 733.33 773.75 737.50 M780.00 600.00C779.38 601.67 776.25 605.83 776.25 610.00C776.25 614.17 778.12 621.25 780.00 625.00C781.88 628.75 785.83 629.58 787.50 632.50C789.17 635.42 787.92 639.58 790.00 642.50C792.08 645.42 798.33 648.75 800.00 650.00 M736.25 760.00C737.71 758.33 740.62 752.08 745.00 750.00C749.38 747.92 757.92 749.17 762.50 747.50C767.08 745.83 768.75 741.25 772.50 740.00C776.25 738.75 781.25 738.75 785.00 740.00C788.75 741.25 792.50 746.67 795.00 747.50C797.50 748.33 799.17 745.42 800.00 745.00 M692.50 775.00C693.33 774.58 694.58 773.33 697.50 772.50C700.42 771.67 706.67 772.50 710.00 770.00C713.33 767.50 714.79 759.79 717.50 757.50C720.21 755.21 724.58 755.00 726.25 756.25C727.92 757.50 725.83 764.38 727.50 765.00C729.17 765.62 734.79 760.83 736.25 760.00 M722.50 775.00C723.75 774.17 726.25 772.08 730.00 770.00C733.75 767.92 741.25 763.75 745.00 762.50C748.75 761.25 750.83 761.25 752.50 762.50C754.17 763.75 756.25 767.92 755.00 770.00C753.75 772.08 745.83 772.92 745.00 775.00C744.17 777.08 746.67 780.83 750.00 782.50C753.33 784.17 760.00 785.42 765.00 785.00C770.00 784.58 776.67 782.50 780.00 780.00C783.33 777.50 785.00 773.33 785.00 770.00C785.00 766.67 782.92 761.25 780.00 760.00C777.08 758.75 771.67 760.83 767.50 762.50C763.33 764.17 757.08 768.75 755.00 770.00 M692.50 775.00C692.92 777.50 692.92 786.25 695.00 790.00C697.08 793.75 703.33 796.25 705.00 797.50 M680.00 780.00C682.08 779.17 690.42 775.83 692.50 775.00 M715.00 790.00C716.67 789.17 721.67 784.58 725.00 785.00C728.33 785.42 731.67 790.00 735.00 792.50C738.33 795.00 743.33 798.75 745.00 800.00 M785.00 750.00C785.83 754.17 789.58 767.50 790.00 775.00C790.42 782.50 787.92 791.67 787.50 795.00 M795.00 755.00C795.42 758.33 796.67 769.17 797.50 775.00C798.33 780.83 799.58 787.50 800.00 790.00 M107.50 797.50C110.00 795.00 117.50 786.12 122.50 782.50C127.50 778.88 133.12 777.12 137.50 775.75C141.88 774.38 146.88 774.50 148.75 774.25 M186.25 797.50C186.88 795.62 187.50 789.38 190.00 786.25C192.50 783.12 197.50 779.38 201.25 778.75C205.00 778.12 208.75 780.00 212.50 782.50C216.25 785.00 220.62 793.75 223.75 793.75C226.88 793.75 228.12 785.31 231.25 782.50C234.38 779.69 238.12 777.50 242.50 776.88C246.88 776.25 255.00 778.44 257.50 778.75 M257.50 778.75C258.75 780.62 261.88 786.88 265.00 790.00C268.12 793.12 274.38 796.25 276.25 797.50 M276.25 790.00C278.12 788.75 283.12 783.12 287.50 782.50C291.88 781.88 298.75 786.88 302.50 786.25C306.25 785.62 306.25 780.31 310.00 778.75C313.75 777.19 321.25 775.62 325.00 776.88C328.75 778.12 329.38 785.31 332.50 786.25C335.62 787.19 339.38 783.44 343.75 782.50C348.12 781.56 354.38 779.38 358.75 780.62C363.12 781.88 366.88 787.19 370.00 790.00C373.12 792.81 376.25 796.25 377.50 797.50 M310.00 778.75C310.62 781.25 311.88 790.62 313.75 793.75C315.62 796.88 320.00 796.88 321.25 797.50 M343.75 782.50C344.38 785.00 346.88 795.00 347.50 797.50 M385.00 782.50C386.25 781.56 390.00 777.50 392.50 776.88C395.00 776.25 398.75 778.44 400.00 778.75 M400.00 778.75C401.25 780.62 405.00 786.88 407.50 790.00C410.00 793.12 413.75 796.25 415.00 797.50 M505.00 800.12C506.25 797.81 508.75 789.81 512.50 786.25C516.25 782.69 522.50 780.31 527.50 778.75C532.50 777.19 538.12 776.25 542.50 776.88C546.88 777.50 552.50 779.69 553.75 782.50C555.00 785.31 551.88 790.81 550.00 793.75C548.12 796.69 543.75 799.06 542.50 800.12 M512.50 793.75C515.00 792.50 522.50 787.81 527.50 786.25C532.50 784.69 540.00 784.69 542.50 784.38 M602.50 778.75C601.88 780.62 598.12 786.44 598.75 790.00C599.38 793.56 605.00 798.44 606.25 800.12 M610.00 800.12C611.25 797.81 613.75 789.81 617.50 786.25C621.25 782.69 627.50 780.31 632.50 778.75C637.50 777.19 645.00 777.19 647.50 776.88 M685.00 790.00C686.25 788.75 690.00 784.38 692.50 782.50C695.00 780.62 698.75 779.38 700.00 778.75 M437.50 778.75C440.00 780.00 448.75 783.12 452.50 786.25C456.25 789.38 458.75 795.62 460.00 797.50" fill="none" stroke="#e1d5cd" stroke-width="1.7" stroke-opacity="0.66" stroke-linecap="round" stroke-linejoin="round"/>
</svg>
<svg id="shapes" viewBox="0 0 800 800" width="800" height="800">
<defs><clipPath id="panel"><rect x="491" y="159" width="199.6" height="614.2"/></clipPath></defs>
<rect x="109" y="159" width="581.6" height="614.2" fill="#f6f3f2"/>
<rect x="109" y="159" width="382" height="124" fill="#ebd9e2"/>
<rect x="109" y="159" width="94.25" height="614.2" fill="#ebd9e2"/>
<g stroke="#0d090a" stroke-width="1.6" fill="none">
<path d="M109 159.5H491.8"/>
<path d="M109 283H491"/>
<path d="M109 406.75H491"/>
<path d="M109 530.4H491"/>
<path d="M109 654H491"/>
<path d="M203.25 159V773.2"/>
<path d="M299.25 159V773.2"/>
<path d="M395 159V773.2"/>
<path d="M491 159V773.2"/>
</g>
<rect x="526" y="159" width="164.6" height="33.8" fill="#e568b5"/>
<rect x="526" y="477.5" width="164.6" height="34" fill="#e568b5"/>
<g clip-path="url(#panel)">
<g transform="translate(0,0)">
<path d="M607.62 213.05C609.99 212.98 613.53 213.19 615.50 213.75C617.47 214.31 619.50 215.63 620.75 216.81C622.00 217.99 623.26 219.98 623.81 221.62C624.36 223.27 624.49 225.91 624.42 227.75C624.36 229.59 623.56 232.63 623.38 233.88C623.19 235.12 623.00 235.34 623.20 236.06C623.40 236.78 624.60 237.83 624.69 238.69C624.78 239.54 624.27 241.03 623.81 241.75C623.35 242.47 622.22 242.84 621.62 243.50C621.03 244.16 620.40 244.81 619.88 246.12C619.35 247.44 618.72 250.97 618.12 252.25C617.53 253.53 616.49 253.84 615.94 254.69C615.39 255.54 614.38 257.31 614.45 257.93C614.52 258.54 615.43 259.02 616.38 258.80C617.32 258.58 619.63 256.96 620.75 256.44C621.87 255.91 622.96 255.42 623.81 255.30C624.67 255.18 626.14 256.07 626.44 255.65C626.74 255.23 625.76 253.50 625.83 252.50C625.89 251.50 626.19 250.02 626.88 249.00C627.56 247.98 629.06 246.17 630.38 245.68C631.69 245.18 633.79 245.57 635.62 245.68C637.46 245.78 641.18 245.88 642.62 246.38C644.07 246.87 644.07 247.88 645.25 249.00C646.43 250.12 648.66 252.37 650.50 253.81C652.34 255.26 655.40 256.85 657.50 258.62C659.60 260.40 662.92 263.72 664.50 265.62C666.08 267.53 667.45 270.13 668.00 271.31C668.55 272.49 668.57 272.98 668.17 273.50C667.78 274.02 666.98 274.55 665.38 274.81C663.77 275.07 659.73 275.25 657.50 275.25C655.27 275.25 652.05 274.84 650.50 274.81C648.95 274.79 647.80 274.48 647.17 275.07C646.54 275.67 646.72 277.94 646.30 278.75C645.88 279.56 645.58 280.47 644.38 280.50C643.17 280.53 640.15 279.19 638.25 278.93C636.35 278.66 632.80 277.99 631.69 278.75C630.57 279.51 630.88 282.16 630.81 284.00C630.75 285.84 630.92 288.38 631.25 291.00C631.58 293.62 632.62 298.09 633.00 301.50C633.38 304.91 633.64 310.04 633.75 313.75C633.86 317.46 633.94 323.25 633.75 326.25C633.56 329.25 632.41 331.69 632.50 333.75C632.59 335.81 634.00 337.94 634.38 340.00C634.75 342.06 634.91 343.94 635.00 347.50C635.09 351.06 634.81 359.62 635.00 363.75C635.19 367.88 635.88 370.50 636.25 375.00C636.62 379.50 636.94 388.50 637.50 393.75C638.06 399.00 639.16 405.69 640.00 410.00C640.84 414.31 642.38 420.44 643.12 422.50C643.88 424.56 644.62 422.62 645.00 423.75C645.38 424.88 645.96 428.84 645.62 430.00C645.29 431.16 643.03 430.94 642.75 431.50C642.47 432.06 642.66 432.29 643.75 433.75C644.84 435.21 648.22 439.00 650.00 441.25C651.78 443.50 654.69 446.88 655.62 448.75C656.56 450.62 656.91 452.44 656.25 453.75C655.59 455.06 652.94 457.03 651.25 457.50C649.56 457.97 647.06 457.81 645.00 456.88C642.94 455.94 639.38 453.22 637.50 451.25C635.62 449.28 633.25 445.44 632.50 443.75C631.75 442.06 632.16 441.27 632.50 440.00C632.84 438.73 634.75 436.56 634.75 435.25C634.75 433.94 633.02 432.79 632.50 431.25C631.98 429.71 632.19 428.19 631.25 425.00C630.31 421.81 627.94 415.06 626.25 410.00C624.56 404.94 621.59 396.50 620.00 391.25C618.41 386.00 616.75 378.75 615.62 375.00C614.50 371.25 613.44 368.31 612.50 366.25C611.56 364.19 610.12 361.25 609.38 361.25C608.62 361.25 608.06 364.00 607.50 366.25C606.94 368.50 606.38 373.81 605.62 376.25C604.88 378.69 603.72 378.94 602.50 382.50C601.28 386.06 598.81 394.94 597.50 400.00C596.19 405.06 594.41 412.50 593.75 416.25C593.09 420.00 593.50 422.38 593.12 425.00C592.75 427.62 591.34 431.50 591.25 433.75C591.16 436.00 592.88 437.56 592.50 440.00C592.12 442.44 589.69 447.19 588.75 450.00C587.81 452.81 587.56 457.06 586.25 458.75C584.94 460.44 581.69 460.91 580.00 461.25C578.31 461.59 576.41 461.38 575.00 461.00C573.59 460.62 571.38 459.84 570.62 458.75C569.88 457.66 569.53 455.81 570.00 453.75C570.47 451.69 572.62 447.62 573.75 445.00C574.88 442.38 576.47 438.12 577.50 436.25C578.53 434.38 580.34 433.44 580.62 432.50C580.91 431.56 579.38 430.75 579.38 430.00C579.38 429.25 580.53 429.19 580.62 427.50C580.72 425.81 580.09 422.12 580.00 418.75C579.91 415.38 579.62 408.75 580.00 405.00C580.38 401.25 582.03 398.25 582.50 393.75C582.97 389.25 582.75 379.50 583.12 375.00C583.50 370.50 584.62 367.31 585.00 363.75C585.38 360.19 585.34 354.06 585.62 351.25C585.91 348.44 586.69 347.21 586.88 345.00C587.06 342.79 587.16 338.00 586.88 336.50C586.59 335.00 585.19 335.75 585.00 335.00C584.81 334.25 585.16 332.25 585.62 331.50C586.09 330.75 587.94 331.16 588.12 330.00C588.31 328.84 587.25 326.19 586.88 323.75C586.50 321.31 585.81 318.06 585.62 313.75C585.44 309.44 585.64 299.33 585.62 295.00C585.61 290.67 585.58 287.02 585.50 284.88C585.42 282.73 586.24 281.17 585.06 280.68C583.88 280.18 579.82 281.18 577.62 281.55C575.43 281.92 571.76 283.55 570.45 283.12C569.14 282.70 570.16 279.54 568.88 278.75C567.59 277.96 564.24 278.14 561.88 277.88C559.51 277.61 555.49 277.33 553.12 277.00C550.76 276.67 547.44 276.21 546.12 275.69C544.81 275.16 544.57 274.22 544.38 273.50C544.18 272.78 544.16 272.19 544.81 270.88C545.47 269.56 546.85 266.72 548.75 264.75C550.65 262.78 554.88 259.52 557.50 257.75C560.12 255.98 564.28 254.18 566.25 252.94C568.22 251.69 568.00 249.96 570.62 249.44C573.25 248.91 581.52 249.18 583.75 249.44C585.98 249.70 585.00 250.07 585.50 251.19C586.00 252.30 586.92 255.56 587.08 256.88C587.23 258.19 585.74 259.50 586.55 259.94C587.36 260.37 590.82 259.93 592.50 259.76C594.18 259.59 596.80 259.47 597.75 258.80C598.70 258.13 599.06 256.90 598.80 255.30C598.54 253.70 596.95 249.73 596.00 248.12C595.05 246.52 592.86 245.12 592.50 244.62C592.14 244.13 593.85 244.92 593.62 244.81C593.40 244.71 591.59 244.40 591.00 243.94C590.41 243.48 589.92 242.47 589.69 241.75C589.45 241.03 589.82 240.31 589.42 239.12C589.03 237.94 587.48 235.71 587.06 233.88C586.64 232.04 586.36 228.71 586.62 226.88C586.89 225.04 587.76 223.13 588.81 221.62C589.86 220.12 591.98 217.93 593.62 216.81C595.27 215.70 597.65 214.75 599.75 214.19C601.85 213.62 605.26 213.12 607.62 213.05Z" fill="#e568b5"/>
<path d="M560.83 267.55C561.35 266.86 564.27 263.96 565.81 262.56C567.35 261.16 570.98 257.83 572.38 257.05C573.77 256.27 575.67 256.51 576.31 256.70C576.95 256.89 577.36 257.84 577.19 258.45C577.01 259.06 575.58 260.67 575.00 261.25C574.42 261.83 573.98 262.33 572.81 262.82C571.65 263.31 567.71 264.27 566.25 264.93C564.79 265.58 562.60 267.38 561.88 267.73C561.15 268.08 560.30 268.24 560.83 267.55Z" fill="#f6f3f2" stroke="#e568b5" stroke-width="0.9"/>
<path d="M628.62 256.61C629.09 256.20 633.23 255.46 634.75 255.12C636.27 254.79 638.89 253.86 640.00 254.07C641.11 254.28 642.27 255.86 643.06 256.70C643.86 257.54 646.01 259.79 645.95 260.38C645.89 260.96 643.77 261.10 642.62 261.07C641.48 261.05 638.89 260.58 637.38 260.20C635.86 259.81 632.42 258.67 631.25 258.19C630.08 257.71 628.16 257.02 628.62 256.61Z" fill="#f6f3f2" stroke="#e568b5" stroke-width="0.9"/>
<g transform="translate(0,0)" fill="none" stroke="#5b3c36" stroke-width="1.8" stroke-linecap="round" stroke-linejoin="round">
<path d="M585.94 284.88C584.84 285.17 581.20 285.75 579.38 286.62C577.55 287.50 575.88 288.96 575.00 290.12C574.12 291.29 573.98 292.46 574.12 293.62C574.27 294.79 574.71 296.18 575.88 297.12C577.04 298.07 578.94 298.80 581.12 299.31C583.31 299.82 586.01 300.23 589.00 300.19C591.99 300.14 597.39 299.24 599.06 299.05"/><path d="M594.42 296.43L599.94 299.05L595.12 302.55L596.44 299.31Z" stroke-width="1.5" fill="#5b3c36"/>
<g transform="translate(0,0)"><path d="M631.25 284.88C632.42 285.17 636.43 285.75 638.25 286.62C640.07 287.50 641.31 288.96 642.19 290.12C643.06 291.29 643.57 292.46 643.50 293.62C643.43 294.79 642.77 296.18 641.75 297.12C640.73 298.07 639.42 298.80 637.38 299.31C635.33 299.82 632.71 300.23 629.50 300.19C626.29 300.14 620.02 299.24 618.12 299.05"/><path d="M622.94 296.43L617.25 299.05L622.24 302.55L620.92 299.31Z" stroke-width="1.5" fill="#5b3c36"/></g>
</g>
</g>
<g transform="translate(0,316)">
<path d="M607.62 213.05C609.99 212.98 613.53 213.19 615.50 213.75C617.47 214.31 619.50 215.63 620.75 216.81C622.00 217.99 623.26 219.98 623.81 221.62C624.36 223.27 624.49 225.91 624.42 227.75C624.36 229.59 623.56 232.63 623.38 233.88C623.19 235.12 623.00 235.34 623.20 236.06C623.40 236.78 624.60 237.83 624.69 238.69C624.78 239.54 624.27 241.03 623.81 241.75C623.35 242.47 622.22 242.84 621.62 243.50C621.03 244.16 620.40 244.81 619.88 246.12C619.35 247.44 618.72 250.97 618.12 252.25C617.53 253.53 616.49 253.84 615.94 254.69C615.39 255.54 614.38 257.31 614.45 257.93C614.52 258.54 615.43 259.02 616.38 258.80C617.32 258.58 619.63 256.96 620.75 256.44C621.87 255.91 622.96 255.42 623.81 255.30C624.67 255.18 626.14 256.07 626.44 255.65C626.74 255.23 625.76 253.50 625.83 252.50C625.89 251.50 626.19 250.02 626.88 249.00C627.56 247.98 629.06 246.17 630.38 245.68C631.69 245.18 633.79 245.57 635.62 245.68C637.46 245.78 641.18 245.88 642.62 246.38C644.07 246.87 644.07 247.88 645.25 249.00C646.43 250.12 648.66 252.37 650.50 253.81C652.34 255.26 655.40 256.85 657.50 258.62C659.60 260.40 662.92 263.72 664.50 265.62C666.08 267.53 667.45 270.13 668.00 271.31C668.55 272.49 668.57 272.98 668.17 273.50C667.78 274.02 666.98 274.55 665.38 274.81C663.77 275.07 659.73 275.25 657.50 275.25C655.27 275.25 652.05 274.84 650.50 274.81C648.95 274.79 647.80 274.48 647.17 275.07C646.54 275.67 646.72 277.94 646.30 278.75C645.88 279.56 645.58 280.47 644.38 280.50C643.17 280.53 640.15 279.19 638.25 278.93C636.35 278.66 632.80 277.99 631.69 278.75C630.57 279.51 630.88 282.16 630.81 284.00C630.75 285.84 630.92 288.38 631.25 291.00C631.58 293.62 632.62 298.09 633.00 301.50C633.38 304.91 633.64 310.04 633.75 313.75C633.86 317.46 633.94 323.25 633.75 326.25C633.56 329.25 632.41 331.69 632.50 333.75C632.59 335.81 634.00 337.94 634.38 340.00C634.75 342.06 634.91 343.94 635.00 347.50C635.09 351.06 634.81 359.62 635.00 363.75C635.19 367.88 635.88 370.50 636.25 375.00C636.62 379.50 636.94 388.50 637.50 393.75C638.06 399.00 639.16 405.69 640.00 410.00C640.84 414.31 642.38 420.44 643.12 422.50C643.88 424.56 644.62 422.62 645.00 423.75C645.38 424.88 645.96 428.84 645.62 430.00C645.29 431.16 643.03 430.94 642.75 431.50C642.47 432.06 642.66 432.29 643.75 433.75C644.84 435.21 648.22 439.00 650.00 441.25C651.78 443.50 654.69 446.88 655.62 448.75C656.56 450.62 656.91 452.44 656.25 453.75C655.59 455.06 652.94 457.03 651.25 457.50C649.56 457.97 647.06 457.81 645.00 456.88C642.94 455.94 639.38 453.22 637.50 451.25C635.62 449.28 633.25 445.44 632.50 443.75C631.75 442.06 632.16 441.27 632.50 440.00C632.84 438.73 634.75 436.56 634.75 435.25C634.75 433.94 633.02 432.79 632.50 431.25C631.98 429.71 632.19 428.19 631.25 425.00C630.31 421.81 627.94 415.06 626.25 410.00C624.56 404.94 621.59 396.50 620.00 391.25C618.41 386.00 616.75 378.75 615.62 375.00C614.50 371.25 613.44 368.31 612.50 366.25C611.56 364.19 610.12 361.25 609.38 361.25C608.62 361.25 608.06 364.00 607.50 366.25C606.94 368.50 606.38 373.81 605.62 376.25C604.88 378.69 603.72 378.94 602.50 382.50C601.28 386.06 598.81 394.94 597.50 400.00C596.19 405.06 594.41 412.50 593.75 416.25C593.09 420.00 593.50 422.38 593.12 425.00C592.75 427.62 591.34 431.50 591.25 433.75C591.16 436.00 592.88 437.56 592.50 440.00C592.12 442.44 589.69 447.19 588.75 450.00C587.81 452.81 587.56 457.06 586.25 458.75C584.94 460.44 581.69 460.91 580.00 461.25C578.31 461.59 576.41 461.38 575.00 461.00C573.59 460.62 571.38 459.84 570.62 458.75C569.88 457.66 569.53 455.81 570.00 453.75C570.47 451.69 572.62 447.62 573.75 445.00C574.88 442.38 576.47 438.12 577.50 436.25C578.53 434.38 580.34 433.44 580.62 432.50C580.91 431.56 579.38 430.75 579.38 430.00C579.38 429.25 580.53 429.19 580.62 427.50C580.72 425.81 580.09 422.12 580.00 418.75C579.91 415.38 579.62 408.75 580.00 405.00C580.38 401.25 582.03 398.25 582.50 393.75C582.97 389.25 582.75 379.50 583.12 375.00C583.50 370.50 584.62 367.31 585.00 363.75C585.38 360.19 585.34 354.06 585.62 351.25C585.91 348.44 586.69 347.21 586.88 345.00C587.06 342.79 587.16 338.00 586.88 336.50C586.59 335.00 585.19 335.75 585.00 335.00C584.81 334.25 585.16 332.25 585.62 331.50C586.09 330.75 587.94 331.16 588.12 330.00C588.31 328.84 587.25 326.19 586.88 323.75C586.50 321.31 585.81 318.06 585.62 313.75C585.44 309.44 585.64 299.33 585.62 295.00C585.61 290.67 585.58 287.02 585.50 284.88C585.42 282.73 586.24 281.17 585.06 280.68C583.88 280.18 579.82 281.18 577.62 281.55C575.43 281.92 571.76 283.55 570.45 283.12C569.14 282.70 570.16 279.54 568.88 278.75C567.59 277.96 564.24 278.14 561.88 277.88C559.51 277.61 555.49 277.33 553.12 277.00C550.76 276.67 547.44 276.21 546.12 275.69C544.81 275.16 544.57 274.22 544.38 273.50C544.18 272.78 544.16 272.19 544.81 270.88C545.47 269.56 546.85 266.72 548.75 264.75C550.65 262.78 554.88 259.52 557.50 257.75C560.12 255.98 564.28 254.18 566.25 252.94C568.22 251.69 568.00 249.96 570.62 249.44C573.25 248.91 581.52 249.18 583.75 249.44C585.98 249.70 585.00 250.07 585.50 251.19C586.00 252.30 586.92 255.56 587.08 256.88C587.23 258.19 585.74 259.50 586.55 259.94C587.36 260.37 590.82 259.93 592.50 259.76C594.18 259.59 596.80 259.47 597.75 258.80C598.70 258.13 599.06 256.90 598.80 255.30C598.54 253.70 596.95 249.73 596.00 248.12C595.05 246.52 592.86 245.12 592.50 244.62C592.14 244.13 593.85 244.92 593.62 244.81C593.40 244.71 591.59 244.40 591.00 243.94C590.41 243.48 589.92 242.47 589.69 241.75C589.45 241.03 589.82 240.31 589.42 239.12C589.03 237.94 587.48 235.71 587.06 233.88C586.64 232.04 586.36 228.71 586.62 226.88C586.89 225.04 587.76 223.13 588.81 221.62C589.86 220.12 591.98 217.93 593.62 216.81C595.27 215.70 597.65 214.75 599.75 214.19C601.85 213.62 605.26 213.12 607.62 213.05Z" fill="#e568b5"/>
<path d="M560.83 267.55C561.35 266.86 564.27 263.96 565.81 262.56C567.35 261.16 570.98 257.83 572.38 257.05C573.77 256.27 575.67 256.51 576.31 256.70C576.95 256.89 577.36 257.84 577.19 258.45C577.01 259.06 575.58 260.67 575.00 261.25C574.42 261.83 573.98 262.33 572.81 262.82C571.65 263.31 567.71 264.27 566.25 264.93C564.79 265.58 562.60 267.38 561.88 267.73C561.15 268.08 560.30 268.24 560.83 267.55Z" fill="#f6f3f2" stroke="#e568b5" stroke-width="0.9"/>
<path d="M628.62 256.61C629.09 256.20 633.23 255.46 634.75 255.12C636.27 254.79 638.89 253.86 640.00 254.07C641.11 254.28 642.27 255.86 643.06 256.70C643.86 257.54 646.01 259.79 645.95 260.38C645.89 260.96 643.77 261.10 642.62 261.07C641.48 261.05 638.89 260.58 637.38 260.20C635.86 259.81 632.42 258.67 631.25 258.19C630.08 257.71 628.16 257.02 628.62 256.61Z" fill="#f6f3f2" stroke="#e568b5" stroke-width="0.9"/>
<g transform="translate(0,24.7)" fill="none" stroke="#5b3c36" stroke-width="1.8" stroke-linecap="round" stroke-linejoin="round">
<path d="M585.94 284.88C584.84 285.17 581.20 285.75 579.38 286.62C577.55 287.50 575.88 288.96 575.00 290.12C574.12 291.29 573.98 292.46 574.12 293.62C574.27 294.79 574.71 296.18 575.88 297.12C577.04 298.07 578.94 298.80 581.12 299.31C583.31 299.82 586.01 300.23 589.00 300.19C591.99 300.14 597.39 299.24 599.06 299.05"/><path d="M594.42 296.43L599.94 299.05L595.12 302.55L596.44 299.31Z" stroke-width="1.5" fill="#5b3c36"/>
<g transform="translate(2,0)"><path d="M631.25 284.88C632.42 285.17 636.43 285.75 638.25 286.62C640.07 287.50 641.31 288.96 642.19 290.12C643.06 291.29 643.57 292.46 643.50 293.62C643.43 294.79 642.77 296.18 641.75 297.12C640.73 298.07 639.42 298.80 637.38 299.31C635.33 299.82 632.71 300.23 629.50 300.19C626.29 300.14 620.02 299.24 618.12 299.05"/><path d="M622.94 296.43L617.25 299.05L622.24 302.55L620.92 299.31Z" stroke-width="1.5" fill="#5b3c36"/></g>
</g>
</g>
</g>
</svg>

<svg id="txt" viewBox="0 0 800 800" width="800" height="800">
<g transform="matrix(0.9200 0.0005 -0.0005 0.9852 0.00 60.61)"><text x="13.33 52.71 93.67 140.91 165.12 197.45 229.25" y="0" font-size="40" font-weight="bold" fill="#ffffff" stroke="#ffffff" stroke-width="0.8" stroke-linejoin="round">CAMILLE</text></g>
<g transform="matrix(1.0925 0.0005 -0.0005 1.0024 0.00 122.85)"><text x="139.00 172.66 200.14 210.73 223.81 249.46 265.17 290.88 317.85" y="0" font-size="47.5" fill="#ffffff" stroke="#cfbfb7" stroke-width="0.5" stroke-linejoin="round">Childrens</text></g>
<g transform="matrix(0.8993 0.0005 -0.0005 1.0024 0.00 122.85)"><text x="426.17 458.31 469.99 496.03" y="0" font-size="47.5" fill="#ffffff" stroke="#cfbfb7" stroke-width="0.5" stroke-linejoin="round">Size</text></g>
<g transform="matrix(1.1112 0.0005 -0.0005 1.0024 0.00 122.85)"><text x="433.91 467.84 494.42 506.73 532.12" y="0" font-size="47.5" fill="#ffffff" stroke="#cfbfb7" stroke-width="0.5" stroke-linejoin="round">Guide</text></g>
<g transform="matrix(0.9618 0.0005 -0.0005 0.9798 134.99 226.75)"><text x="0.00 14.34 20.31 31.06" y="0" font-size="21.5" font-weight="bold" fill="#0e0c0d" stroke="#0e0c0d" stroke-width="0.7" stroke-linejoin="round">Size</text></g>
<g transform="matrix(1.0086 0.0005 -0.0005 0.9421 220.96 212.47)"><text x="0.00 15.53 28.66 40.62 52.57" y="0" font-size="21.5" font-weight="bold" fill="#0e0c0d" stroke="#0e0c0d" stroke-width="0.7" stroke-linejoin="round">Chest</text></g>
<g transform="matrix(1.0302 0.0005 -0.0005 0.9424 317.84 212.47)"><text x="0.00 20.29 32.25 38.22 50.18" y="0" font-size="21.5" font-weight="bold" fill="#0e0c0d" stroke="#0e0c0d" stroke-width="0.7" stroke-linejoin="round">Waist</text></g>
<g transform="matrix(1.0061 0.0005 -0.0005 0.9424 406.91 212.47)"><text x="0.00 13.13 25.09 38.22 51.36 58.52" y="0" font-size="21.5" font-weight="bold" fill="#0e0c0d" stroke="#0e0c0d" stroke-width="0.7" stroke-linejoin="round">Length</text></g>
<g transform="matrix(1.1000 0.0005 -0.0005 0.9370 0.00 240.12)"><text x="205.08 213.00 227.62 245.43" y="0" font-size="21" font-weight="bold" fill="#0e0c0d" stroke="#0e0c0d" stroke-width="0.6" stroke-linejoin="round">(CM)</text></g>
<g transform="matrix(1.1000 0.0005 -0.0005 0.9370 0.00 240.12)"><text x="292.35 300.27 314.89 332.70" y="0" font-size="21" font-weight="bold" fill="#0e0c0d" stroke="#0e0c0d" stroke-width="0.6" stroke-linejoin="round">(CM)</text></g>
<g transform="matrix(1.1000 0.0005 -0.0005 0.9370 0.00 240.12)"><text x="379.17 387.09 401.71 419.52" y="0" font-size="21" font-weight="bold" fill="#0e0c0d" stroke="#0e0c0d" stroke-width="0.6" stroke-linejoin="round">(CM)</text></g>
<g transform="matrix(1.0600 0.0005 -0.0005 0.9735 0.00 336.75)"><text x="129.63 143.48 152.03" y="0" font-size="21.5" font-weight="bold" fill="#0e0c0d" stroke="#0e0c0d" stroke-width="0.7" stroke-linejoin="round">6-8</text></g>
<g transform="matrix(1.0124 0.0005 -0.0005 0.9424 126.48 364.27)"><text x="0.00 14.34 26.30 38.25 46.62" y="0" font-size="21.5" font-weight="bold" fill="#0e0c0d" stroke="#0e0c0d" stroke-width="0.7" stroke-linejoin="round">Years</text></g>
<g transform="matrix(1.1000 0.0005 -0.0005 1.0058 0.00 350.65)"><text x="216.52 228.67" y="0" font-size="20.5" fill="#161314" stroke="#161314" stroke-width="0.3" stroke-linejoin="round">84</text></g>
<g transform="matrix(1.1000 0.0005 -0.0005 1.0058 0.00 350.65)"><text x="304.19 315.37" y="0" font-size="20.5" fill="#161314" stroke="#161314" stroke-width="0.3" stroke-linejoin="round">70</text></g>
<g transform="matrix(1.1000 0.0005 -0.0005 1.0058 0.00 350.65)"><clipPath id="c_v02"><path clip-rule="evenodd" d="M368.46 -30.75H444.53V20.50H368.46ZM389.37 -2.48H393.91V1.65H389.37ZM395.81 -2.48H400.51V1.65H395.81ZM402.57 -2.48H406.95V1.65H402.57Z"/></clipPath><g clip-path="url(#c_v02)"><text x="388.96 395.40 403.53" y="0" font-size="20.5" fill="#161314" stroke="#161314" stroke-width="0.3" stroke-linejoin="round">114</text></g></g>
<g transform="matrix(1.0600 0.0005 -0.0005 0.9735 0.00 460.75)"><clipPath id="c_l1a"><path clip-rule="evenodd" d="M106.63 -32.25H200.27V21.50H106.63ZM148.55 -3.34H153.16V1.85H148.55ZM156.91 -3.34H161.89V1.85H156.91ZM165.64 -3.34H169.98V1.85H165.64Z"/></clipPath><g clip-path="url(#c_l1a)"><text x="128.13 141.83 148.54 157.27" y="0" font-size="21.5" font-weight="bold" fill="#0e0c0d" stroke="#0e0c0d" stroke-width="0.7" stroke-linejoin="round">9-11</text></g></g>
<g transform="matrix(1.0124 0.0005 -0.0005 0.9424 126.48 488.27)"><text x="0.00 14.34 26.30 38.25 46.62" y="0" font-size="21.5" font-weight="bold" fill="#0e0c0d" stroke="#0e0c0d" stroke-width="0.7" stroke-linejoin="round">Years</text></g>
<g transform="matrix(1.1000 0.0005 -0.0005 1.0058 0.00 474.35)"><text x="217.81 228.70" y="0" font-size="20.5" fill="#161314" stroke="#161314" stroke-width="0.3" stroke-linejoin="round">92</text></g>
<g transform="matrix(1.1000 0.0005 -0.0005 1.0058 0.00 474.35)"><text x="304.89 315.73" y="0" font-size="20.5" fill="#161314" stroke="#161314" stroke-width="0.3" stroke-linejoin="round">72</text></g>
<g transform="matrix(1.1000 0.0005 -0.0005 1.0058 0.00 474.35)"><clipPath id="c_v12"><path clip-rule="evenodd" d="M368.57 -30.75H444.63V20.50H368.57ZM389.48 -2.48H394.03V1.65H389.48ZM396.08 -2.48H400.62V1.65H396.08ZM402.84 -2.48H405.98V1.65H402.84Z"/></clipPath><g clip-path="url(#c_v12)"><text x="389.07 395.67 403.63" y="0" font-size="20.5" fill="#161314" stroke="#161314" stroke-width="0.3" stroke-linejoin="round">119</text></g></g>
<g transform="matrix(1.0600 0.0005 -0.0005 0.9735 0.00 584.35)"><clipPath id="c_l2a"><path clip-rule="evenodd" d="M98.03 -32.25H201.66V21.50H98.03ZM119.54 -3.34H124.15V1.85H119.54ZM127.90 -3.34H129.04V1.85H127.90ZM148.55 -3.34H153.16V1.85H148.55ZM156.91 -3.34H161.25V1.85H156.91Z"/></clipPath><g clip-path="url(#c_l2a)"><text x="119.53 128.75 141.83 148.54 158.66" y="0" font-size="21.5" font-weight="bold" fill="#0e0c0d" stroke="#0e0c0d" stroke-width="0.7" stroke-linejoin="round">12-14</text></g></g>
<g transform="matrix(1.0124 0.0005 -0.0005 0.9424 126.48 611.87)"><text x="0.00 14.34 26.30 38.25 46.62" y="0" font-size="21.5" font-weight="bold" fill="#0e0c0d" stroke="#0e0c0d" stroke-width="0.7" stroke-linejoin="round">Years</text></g>
<g transform="matrix(1.1000 0.0005 -0.0005 1.0058 0.00 598.05)"><clipPath id="c_v20"><path clip-rule="evenodd" d="M191.75 -30.75H273.09V20.50H191.75ZM212.66 -2.48H217.20V1.65H212.66ZM219.41 -2.48H222.56V1.65H219.41Z"/></clipPath><g clip-path="url(#c_v20)"><text x="212.25 220.37 232.09" y="0" font-size="20.5" fill="#161314" stroke="#161314" stroke-width="0.3" stroke-linejoin="round">100</text></g></g>
<g transform="matrix(1.1000 0.0005 -0.0005 1.0058 0.00 598.05)"><text x="304.25 315.73" y="0" font-size="20.5" fill="#161314" stroke="#161314" stroke-width="0.3" stroke-linejoin="round">74</text></g>
<g transform="matrix(1.1000 0.0005 -0.0005 1.0058 0.00 598.05)"><clipPath id="c_v22"><path clip-rule="evenodd" d="M367.51 -30.75H446.75V20.50H367.51ZM388.42 -2.48H392.96V1.65H388.42ZM395.17 -2.48H396.35V1.65H395.17Z"/></clipPath><g clip-path="url(#c_v22)"><text x="388.01 395.57 405.75" y="0" font-size="20.5" fill="#161314" stroke="#161314" stroke-width="0.3" stroke-linejoin="round">127</text></g></g>
<g transform="matrix(1.0600 0.0005 -0.0005 0.9735 0.00 708.05)"><clipPath id="c_l3a"><path clip-rule="evenodd" d="M98.03 -32.25H202.11V21.50H98.03ZM119.54 -3.34H124.15V1.85H119.54ZM127.90 -3.34H130.59V1.85H127.90ZM148.55 -3.34H153.16V1.85H148.55ZM156.91 -3.34H161.17V1.85H156.91Z"/></clipPath><g clip-path="url(#c_l3a)"><text x="119.53 128.66 141.83 148.54 159.11" y="0" font-size="21.5" font-weight="bold" fill="#0e0c0d" stroke="#0e0c0d" stroke-width="0.7" stroke-linejoin="round">15-16</text></g></g>
<g transform="matrix(1.0124 0.0005 -0.0005 0.9424 126.48 735.57)"><text x="0.00 14.34 26.30 38.25 46.62" y="0" font-size="21.5" font-weight="bold" fill="#0e0c0d" stroke="#0e0c0d" stroke-width="0.7" stroke-linejoin="round">Years</text></g>
<g transform="matrix(1.1000 0.0005 -0.0005 1.0058 0.00 721.55)"><clipPath id="c_v30"><path clip-rule="evenodd" d="M192.25 -30.75H272.95V20.50H192.25ZM213.16 -2.48H217.71V1.65H213.16ZM219.92 -2.48H223.14V1.65H219.92Z"/></clipPath><g clip-path="url(#c_v30)"><text x="212.75 220.95 231.95" y="0" font-size="20.5" fill="#161314" stroke="#161314" stroke-width="0.3" stroke-linejoin="round">107</text></g></g>
<g transform="matrix(1.1000 0.0005 -0.0005 1.0058 0.00 721.55)"><text x="304.27 315.40" y="0" font-size="20.5" fill="#161314" stroke="#161314" stroke-width="0.3" stroke-linejoin="round">76</text></g>
<g transform="matrix(1.1000 0.0005 -0.0005 1.0058 0.00 721.55)"><clipPath id="c_v32"><path clip-rule="evenodd" d="M365.97 -30.75H447.66V20.50H365.97ZM386.88 -2.48H391.43V1.65H386.88ZM393.64 -2.48H398.02V1.65H393.64Z"/></clipPath><g clip-path="url(#c_v32)"><text x="386.47 394.95 406.66" y="0" font-size="20.5" fill="#161314" stroke="#161314" stroke-width="0.3" stroke-linejoin="round">145</text></g></g>
<g transform="matrix(1.0701 0.0005 -0.0005 0.9710 572.70 184.59)"><text x="0.00 16.61 30.66 43.45 56.24" y="0" font-size="23" font-weight="bold" fill="#fdeef6" stroke="#fdeef6" stroke-width="0.4" stroke-linejoin="round">Chest</text></g>
<g transform="matrix(1.0922 0.0005 -0.0005 0.9677 572.39 503.11)"><text x="0.00 21.71 34.50 40.89 53.68" y="0" font-size="23" font-weight="bold" fill="#fdeef6" stroke="#fdeef6" stroke-width="0.4" stroke-linejoin="round">Waist</text></g>
</svg>
</body>
</html>
